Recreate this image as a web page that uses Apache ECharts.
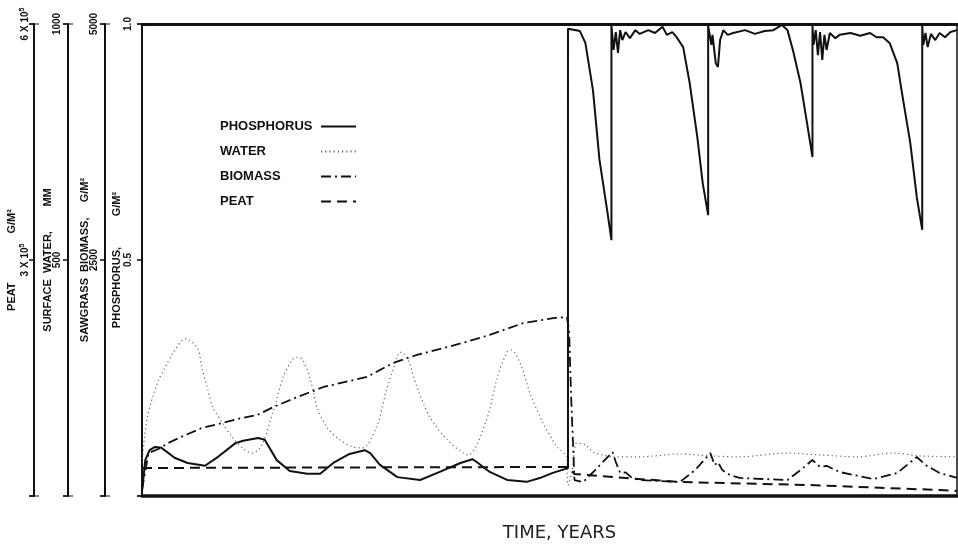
<!DOCTYPE html>
<html><head><meta charset="utf-8">
<script src="https://cdn.jsdelivr.net/npm/echarts@6/dist/echarts.min.js"></script>
<style>html,body{margin:0;padding:0;background:#fff}#c{width:958px;height:548px}</style>
</head><body><div id="c"></div>
<script>
// ---- data (time in years, values in each series' own units) ----
const seriesNames = ['PHOSPHORUS', 'WATER', 'BIOMASS', 'PEAT'];

const phosphorusData = [
  [0,0.01],[0.03,0.076],[0.07,0.097],[0.12,0.104],[0.18,0.102],[0.30,0.081],[0.42,0.070],[0.58,0.064],[0.70,0.083],[0.86,0.112],
  [0.93,0.117],[1.07,0.123],[1.13,0.119],[1.24,0.076],[1.36,0.053],[1.52,0.047],[1.64,0.047],[1.76,0.070],[1.91,0.089],[2.05,0.097],
  [2.10,0.091],[2.19,0.066],[2.35,0.040],[2.56,0.034],[2.74,0.051],[2.93,0.070],[3.04,0.078],[3.08,0.072],[3.20,0.051],[3.36,0.034],
  [3.54,0.030],[3.66,0.038],[3.78,0.049],[3.92,0.059],
  [3.92,0.99],[4.03,0.985],[4.08,0.960],[4.15,0.860],[4.21,0.712],[4.28,0.606],[4.32,0.542],
  [4.32,0.996],[4.34,0.945],[4.36,0.983],[4.38,0.939],[4.40,0.987],[4.42,0.966],[4.45,0.983],[4.49,0.970],[4.54,0.987],[4.58,0.979],
  [4.66,0.987],[4.72,0.981],[4.79,0.994],[4.83,0.977],[4.88,0.983],[4.92,0.972],[4.98,0.951],[5.04,0.875],[5.11,0.761],[5.16,0.663],[5.21,0.595],
  [5.21,0.996],[5.24,0.956],[5.25,0.977],[5.28,0.917],[5.30,0.909],[5.32,0.966],[5.35,0.987],[5.39,0.977],[5.44,0.981],[5.55,0.987],
  [5.64,0.979],[5.73,0.985],[5.81,0.987],[5.89,0.998],[5.94,0.987],[5.99,0.945],[6.06,0.875],[6.12,0.790],[6.17,0.718],
  [6.17,0.996],[6.18,0.956],[6.20,0.987],[6.22,0.934],[6.24,0.983],[6.26,0.924],[6.28,0.977],[6.30,0.945],[6.33,0.981],[6.38,0.970],
  [6.42,0.977],[6.52,0.981],[6.61,0.975],[6.70,0.981],[6.76,0.972],[6.82,0.972],[6.88,0.960],[6.95,0.917],[7.00,0.845],[7.07,0.748],[7.13,0.633],[7.18,0.564],
  [7.18,0.996],[7.19,0.956],[7.21,0.981],[7.23,0.951],[7.26,0.979],[7.30,0.966],[7.34,0.981],[7.39,0.972],[7.44,0.983],[7.50,0.987]
];

const waterData = [
  [0,70],[0.05,167],[0.14,239],[0.21,271],[0.29,305],[0.40,333],[0.51,314],[0.55,273],[0.60,231],[0.65,189],
  [0.74,155],[0.83,125],[0.95,97],[1.02,91],[1.10,106],[1.21,182],[1.30,252],[1.38,288],[1.43,294],[1.48,288],
  [1.55,246],[1.61,189],[1.70,146],[1.82,119],[1.94,104],[2.03,102],[2.16,146],[2.25,225],[2.35,294],[2.37,305],
  [2.44,294],[2.53,231],[2.65,167],[2.81,119],[3.00,87],[3.17,161],[3.27,252],[3.36,305],[3.40,309],[3.48,282],
  [3.57,218],[3.69,155],[3.82,104],[3.91,83],[3.92,23],[3.96,55],[4.00,112],[4.08,108],[4.15,93],[4.24,87],
  [4.33,83],[4.58,83],[4.95,89],[5.23,85],[5.50,83],[5.94,91],[6.24,87],[6.58,83],[6.91,91],[7.16,85],[7.50,83]
];

const biomassData = [
  [0,64],[0.06,455],[0.17,508],[0.24,561],[0.40,646],[0.55,720],[0.74,773],[0.92,826],[1.06,858],[1.21,943],
  [1.43,1049],[1.67,1155],[2.07,1261],[2.31,1409],[2.53,1494],[2.95,1621],[3.20,1706],[3.51,1833],[3.80,1886],[3.91,1896],
  [3.93,1758],[3.95,1017],[3.98,169],[4.06,148],[4.17,275],[4.33,466],[4.36,360],[4.40,244],[4.45,250],[4.50,200],
  [4.58,169],[4.95,148],[5.09,275],[5.23,455],[5.27,328],[5.30,360],[5.34,275],[5.41,222],[5.50,191],[5.94,169],
  [6.06,275],[6.17,381],[6.24,307],[6.30,320],[6.42,254],[6.73,180],[6.95,244],[7.13,413],[7.21,328],[7.34,244],[7.50,191]
];

const peatData = [
  [0,35600],[1.9,36300],[3.92,36900],[3.98,28000],[4.21,25400],[4.95,17800],[6.12,14000],[7.34,7600],[7.50,6400]
];

const phosphorusTicks = ['', '0.5', '1.0'];
const biomassTicks = ['', '2500', '5000'];
const waterTicks = ['', '500', '1000'];
const peatTicks = ['', '3 X 10{s|5}', '6 X 10{s|5}'];

const axisNames = [
  'PHOSPHORUS,\u00a0\u00a0\u00a0\u00a0\u00a0\u00a0\u00a0\u00a0\u00a0\u00a0G/M\u00b2',
  'SAWGRASS\u00a0\u00a0BIOMASS,\u00a0\u00a0\u00a0\u00a0\u00a0G/M\u00b2',
  'SURFACE\u00a0\u00a0WATER,\u00a0\u00a0\u00a0\u00a0\u00a0\u00a0\u00a0\u00a0MM',
  'PEAT\u00a0\u00a0\u00a0\u00a0\u00a0\u00a0\u00a0\u00a0\u00a0\u00a0\u00a0\u00a0\u00a0\u00a0\u00a0\u00a0G/M\u00b2'
];

// ---- chart ----
const FONT = 'Liberation Sans';
const INK = '#111';
const bar = 'path://M0,0 L10,0 L10,1 L0,1 Z';

function makeY(name, max, offset, ticks, labelMargin, nameGap) {
  return {
    type: 'value', position: 'left', offset: offset, min: 0, max: max, interval: max / 2,
    name: name, nameLocation: 'middle', nameRotate: 90, nameGap: nameGap, nameMoveOverlap: false,
    nameTextStyle: { fontFamily: FONT, fontWeight: 'bold', fontSize: 11, color: INK },
    axisLine: { show: true, onZero: false, lineStyle: { color: INK, width: 2 }, symbol: [bar, bar], symbolSize: [10, 2.5] },
    axisTick: { show: true, length: 5, lineStyle: { color: INK, width: 1.5 } },
    axisLabel: { show: true, rotate: 90, margin: labelMargin, fontFamily: FONT, fontWeight: 'bold', fontSize: 10, color: INK,
      rich: { s: { fontSize: 7, fontFamily: FONT, fontWeight: 'bold', verticalAlign: 'top', padding: [0, 0, 5, 0] } },
      formatter: function (v, i) { return ticks[i] || ''; } },
    splitLine: { show: false }
  };
}

const chart = echarts.init(document.getElementById('c'), null, { renderer: 'canvas' });
chart.setOption({
  animation: false,
  backgroundColor: '#fff',
  grid: { left: 142, right: 1, top: 24, bottom: 52, show: true, borderColor: INK, borderWidth: 1.5, outerBoundsMode: 'none', containLabel: false },
  legend: {
    left: 220, top: 120, padding: 0, orient: 'vertical', align: 'right', itemWidth: 35, itemHeight: 14, itemGap: 12,
    selectedMode: false, data: seriesNames,
    itemStyle: { color: 'transparent', borderWidth: 0, opacity: 0 },
    formatter: function (n) { return '{t|' + n + '}'; },
    textStyle: { rich: { t: { width: 96, align: 'left', fontFamily: FONT, fontWeight: 'bold', fontSize: 13, color: INK } } }
  },
  xAxis: [
    { type: 'value', min: 0, max: 7.5, position: 'bottom',
      axisLine: { show: true, onZero: false, lineStyle: { color: INK, width: 3.5 } },
      axisTick: { show: false }, axisLabel: { show: false }, splitLine: { show: false },
      name: 'TIME, YEARS', nameLocation: 'middle', nameGap: 28, nameMoveOverlap: false,
      nameTextStyle: { fontFamily: 'DejaVu Sans', fontSize: 18, color: '#222', padding: [0, 0, 0, 20] } },
    { type: 'value', min: 0, max: 7.5, position: 'top',
      axisLine: { show: true, onZero: false, lineStyle: { color: INK, width: 3 } },
      axisTick: { show: false }, axisLabel: { show: false }, splitLine: { show: false } }
  ],
  yAxis: [
    makeY(axisNames[0], 1, 0, phosphorusTicks, 9, 20),
    makeY(axisNames[1], 5000, 37, biomassTicks, 6, 15),
    makeY(axisNames[2], 1000, 74, waterTicks, 6, 15),
    makeY(axisNames[3], 600000, 108, peatTicks, 3, 17)
  ],
  series: [
    { name: 'PHOSPHORUS', type: 'line', xAxisIndex: 0, yAxisIndex: 0, data: phosphorusData, symbol: 'none', showSymbol: false,
      lineStyle: { color: INK, width: 2, type: 'solid' }, itemStyle: { color: INK }, z: 5 },
    { name: 'WATER', type: 'line', xAxisIndex: 0, yAxisIndex: 2, data: waterData, symbol: 'none', showSymbol: false, smooth: 0.3,
      lineStyle: { color: '#666', width: 1.2, type: [1.2, 3] }, itemStyle: { color: '#666' }, z: 2 },
    { name: 'BIOMASS', type: 'line', xAxisIndex: 0, yAxisIndex: 1, data: biomassData, symbol: 'none', showSymbol: false,
      lineStyle: { color: INK, width: 1.8, type: [10, 4, 2, 4] }, itemStyle: { color: INK }, z: 3 },
    { name: 'PEAT', type: 'line', xAxisIndex: 0, yAxisIndex: 3, data: peatData, symbol: 'none', showSymbol: false,
      lineStyle: { color: INK, width: 2, type: [10, 6] }, itemStyle: { color: INK }, z: 3 }
  ]
});
</script>
</body></html>
